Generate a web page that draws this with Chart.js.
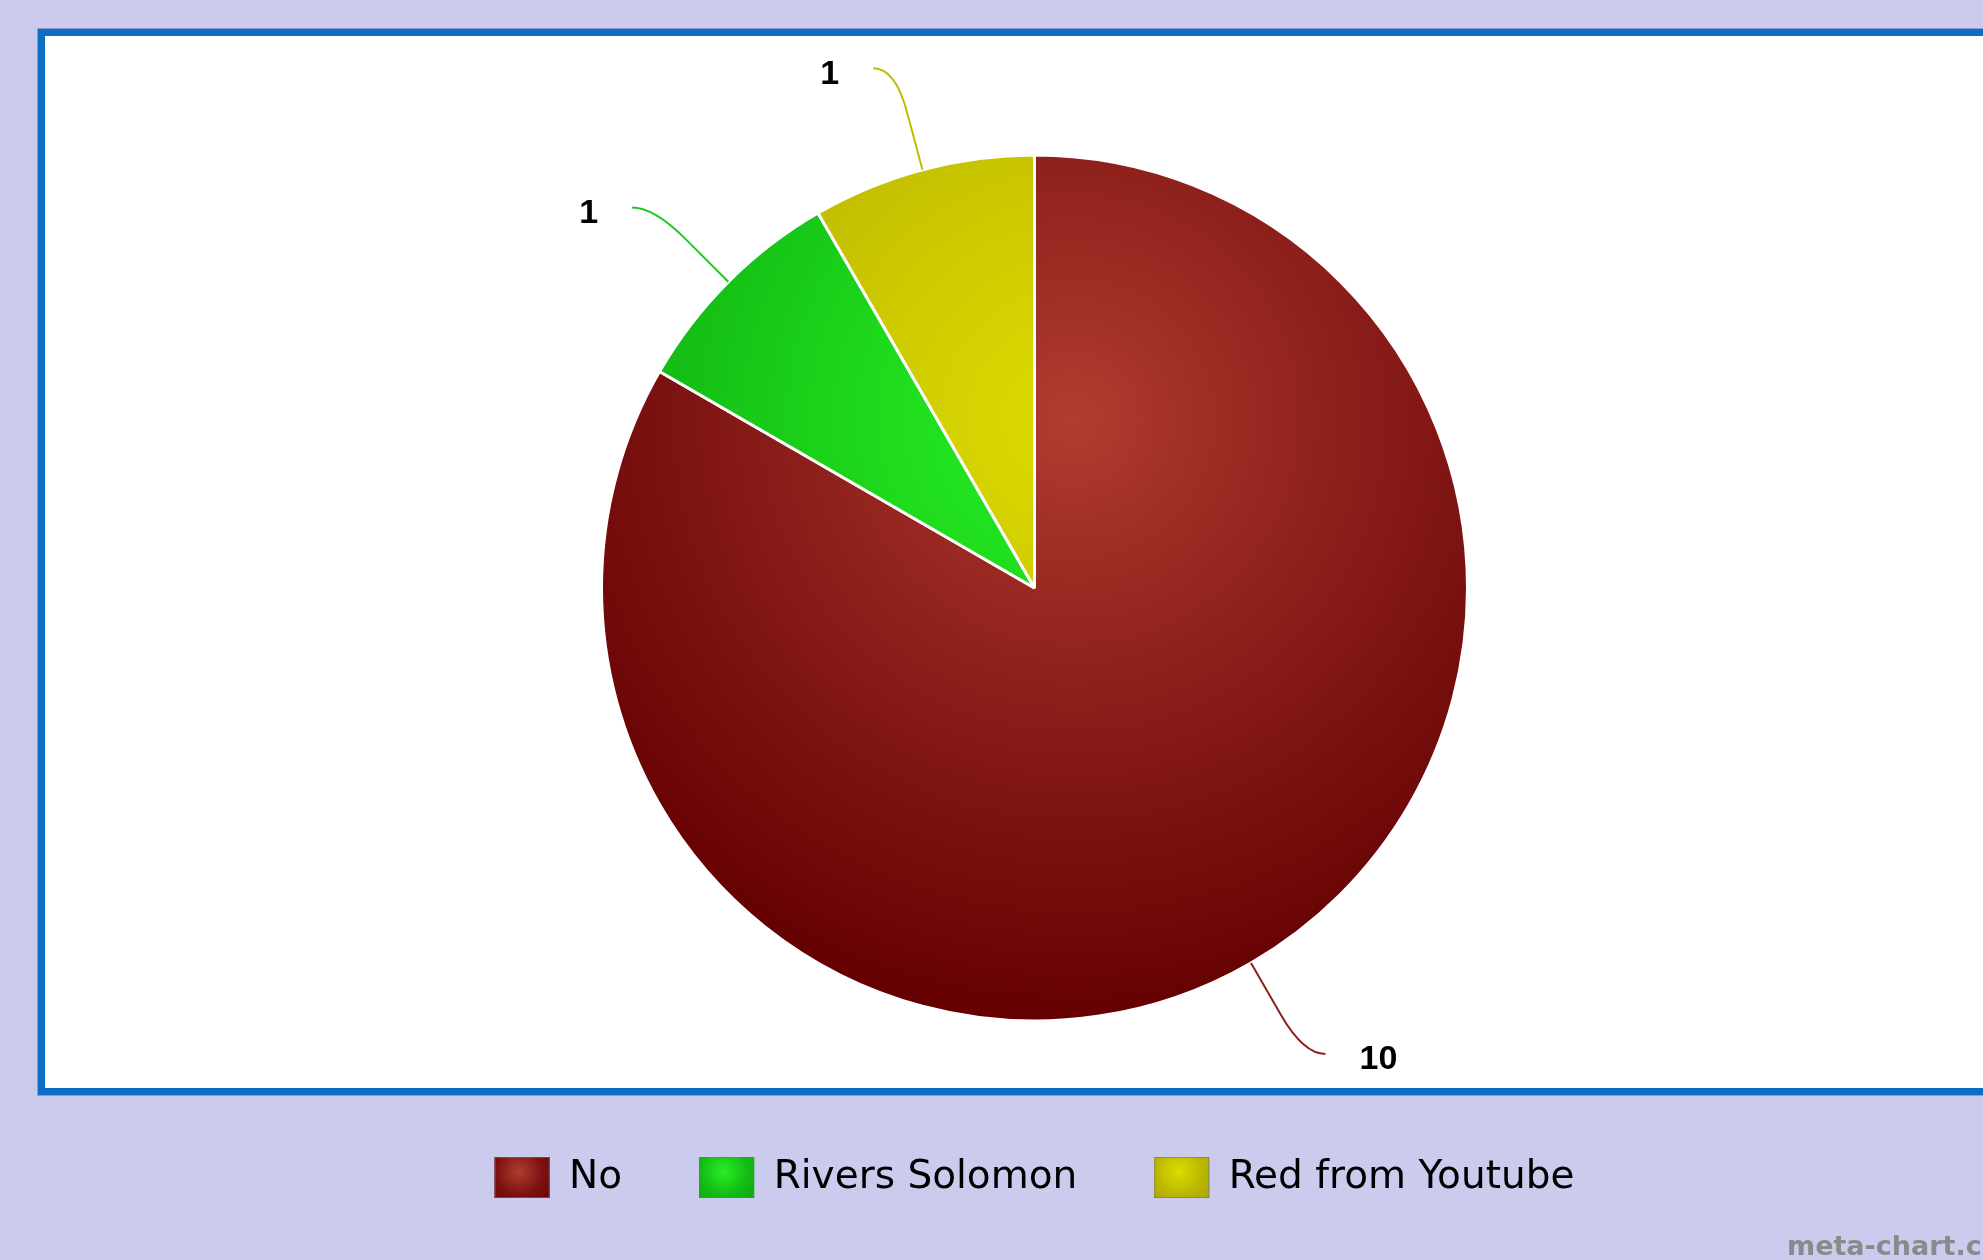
<!DOCTYPE html>
<html lang="en">

<head>
    <meta charset="UTF-8">
    <title>Pie Chart</title>
    <style>
        html, body { margin: 0; padding: 0; background: #cbcbee; overflow: hidden; }
        #chart-wrap { width: 1983px; height: 1260px; }
    </style>
</head>

<body>
    <div id="chart-wrap">
        <canvas id="pie-chart" width="1983" height="1260"></canvas>
    </div>

    <script src="https://cdn.jsdelivr.net/npm/chart.js"></script>

    <script>
        // data
        const categories = ['No', 'Rivers Solomon', 'Red from Youtube'];
        const counts = [10, 1, 1];

        // gradient stops per slice: [light, mid, dark, edge]
        const sliceStops = [
            ['#b23c31', '#982821', '#7b1211', '#650000'],
            ['#28ee26', '#1fdc1d', '#14bc14', '#0d9e0d'],
            ['#dcdc00', '#cfcc00', '#bbb700', '#a09d00']
        ];
        const lineColors = ['#8e1f1c', '#22c922', '#bfbd00'];
        const legendFlat = ['#8e1d1a', '#18c818', '#c4c200'];

        // one radial light for the whole pie, up and a bit right of centre
        function sliceFill(context) {
            const chart = context.chart;
            const area = chart.chartArea;
            if (!area) return legendFlat[context.dataIndex];
            const arc = chart.getDatasetMeta(0).data[context.dataIndex];
            const r = arc && arc.outerRadius ? arc.outerRadius : 433;
            const cx = (area.left + area.right) / 2;
            const cy = (area.top + area.bottom) / 2;
            const gx = cx + 0.09 * r, gy = cy - 0.39 * r;
            const g = chart.ctx.createRadialGradient(gx, gy, 0, gx, gy, 1.4 * r);
            const s = sliceStops[context.dataIndex];
            g.addColorStop(0, s[0]);
            g.addColorStop(0.3, s[1]);
            g.addColorStop(0.68, s[2]);
            g.addColorStop(1, s[3]);
            return g;
        }

        // page background + blue frame + watermark
        const framePlugin = {
            id: 'frame',
            beforeDraw(chart) {
                const ctx = chart.ctx;
                ctx.save();
                ctx.fillStyle = '#cbcbee';
                ctx.fillRect(0, 0, chart.width, chart.height);
                ctx.fillStyle = '#ffffff';
                ctx.fillRect(38, 29, chart.width, 1066);
                ctx.strokeStyle = '#8e9bcc';
                ctx.lineWidth = 1;
                ctx.strokeRect(37.5, 28.5, chart.width + 10, 1067);
                ctx.strokeStyle = '#0c6ec2';
                ctx.lineWidth = 7;
                ctx.strokeRect(41.5, 32.5, chart.width + 10, 1059);
                ctx.restore();
            },
            afterDraw(chart) {
                const ctx = chart.ctx;
                ctx.save();
                ctx.fillStyle = '#8a8a8a';
                ctx.font = 'bold 27px "DejaVu Sans"';
                ctx.textAlign = 'left';
                ctx.textBaseline = 'alphabetic';
                ctx.fillText('meta-chart.com', 1787, 1255);

                // shaded legend boxes on top of the flat ones
                const legend = chart.legend;
                const opts = legend.options.labels;
                legend.legendHitBoxes.forEach((box, i) => {
                    const w = opts.boxWidth, h = opts.boxHeight;
                    const x = box.left, y = box.top;
                    const g = ctx.createRadialGradient(x + 0.45 * w, y + 0.35 * h, 0, x + 0.45 * w, y + 0.35 * h, 0.85 * w);
                    const s = sliceStops[i];
                    g.addColorStop(0, s[0]);
                    g.addColorStop(0.5, s[2]);
                    g.addColorStop(1, s[3]);
                    ctx.fillStyle = g;
                    ctx.fillRect(x, y, w, h);
                    ctx.strokeStyle = 'rgba(110,110,130,0.6)';
                    ctx.lineWidth = 1;
                    ctx.strokeRect(x + 0.5, y + 0.5, w - 1, h - 1);
                });
                ctx.restore();
            }
        };

        // value labels with soft connectors
        const connectorPlugin = {
            id: 'connectors',
            afterDatasetsDraw(chart) {
                const ctx = chart.ctx;
                const meta = chart.getDatasetMeta(0);
                const values = chart.data.datasets[0].data;
                ctx.save();
                meta.data.forEach((arc, i) => {
                    const mid = (arc.startAngle + arc.endAngle) / 2;
                    const dx = Math.cos(mid), dy = Math.sin(mid);
                    const r = arc.outerRadius;
                    const side = dx >= 0 ? 1 : -1;
                    const p0 = [arc.x + r * dx, arc.y + r * dy];
                    const pa = [arc.x + (r + 60) * dx, arc.y + (r + 60) * dy];
                    const pc = [arc.x + (r + 105) * dx, arc.y + (r + 105) * dy];
                    const pe = [pc[0] + side * 22, pc[1]];
                    ctx.beginPath();
                    ctx.moveTo(p0[0], p0[1]);
                    ctx.lineTo(pa[0], pa[1]);
                    ctx.quadraticCurveTo(pc[0], pc[1], pe[0], pe[1]);
                    ctx.strokeStyle = lineColors[i];
                    ctx.lineWidth = 2;
                    ctx.stroke();

                    ctx.fillStyle = '#000000';
                    ctx.font = 'bold 34px "Liberation Sans"';
                    ctx.textBaseline = 'middle';
                    ctx.textAlign = side > 0 ? 'left' : 'right';
                    ctx.fillText(String(values[i]), pe[0] + side * 34, pe[1] + 6);
                });
                ctx.restore();
            }
        };

        const ctx = document.getElementById('pie-chart').getContext('2d');
        const pieChart = new Chart(ctx, {
            type: 'pie',
            data: {
                labels: categories,
                datasets: [{
                    data: counts,
                    backgroundColor: sliceFill,
                    borderColor: '#ffffff',
                    borderWidth: 3,
                    hoverOffset: 0
                }]
            },
            options: {
                responsive: false,
                animation: false,
                events: [],
                radius: 433,
                layout: {
                    padding: { top: 96, bottom: 52, left: 86, right: 0 }
                },
                plugins: {
                    legend: {
                        position: 'bottom',
                        labels: {
                            boxWidth: 55,
                            boxHeight: 41,
                            padding: 77,
                            color: '#3a3a3a',
                            font: {
                                family: '"DejaVu Sans"',
                                size: 39
                            },
                            generateLabels: function (chart) {
                                return chart.data.labels.map((text, i) => ({
                                    text: text,
                                    fillStyle: legendFlat[i],
                                    strokeStyle: legendFlat[i],
                                    lineWidth: 0,
                                    hidden: false,
                                    index: i
                                }));
                            }
                        }
                    },
                    tooltip: { enabled: false }
                }
            },
            plugins: [framePlugin, connectorPlugin]
        });
    </script>
</body>

</html>
